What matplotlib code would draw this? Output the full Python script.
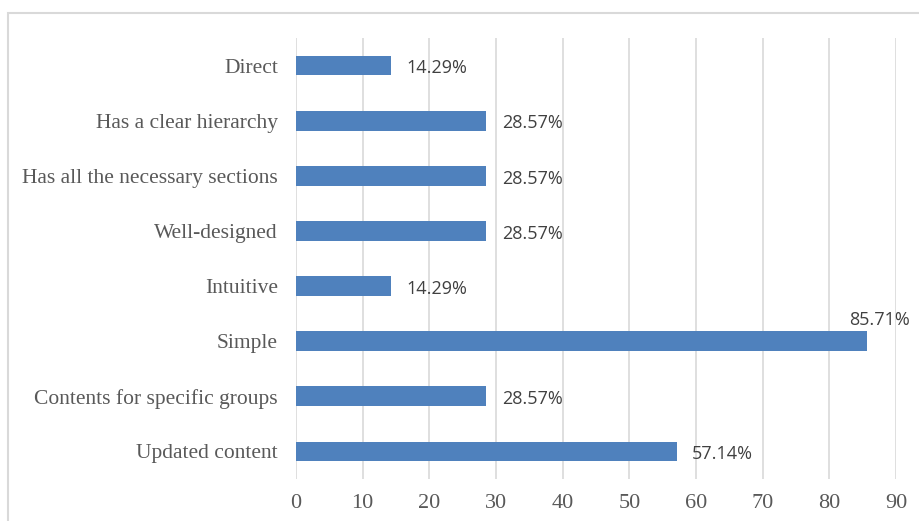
import matplotlib
matplotlib.use("Agg")
import matplotlib.pyplot as plt
from matplotlib.patches import Rectangle

categories = ["Direct", "Has a clear hierarchy", "Has all the necessary sections",
              "Well-designed", "Intuitive", "Simple",
              "Contents for specific groups", "Updated content"]
values = [14.29, 28.57, 28.57, 28.57, 14.29, 85.71, 28.57, 57.14]
xticks = [0, 10, 20, 30, 40, 50, 60, 70, 80, 90]

W, H = 919, 521
fig = plt.figure(figsize=(W / 100, H / 100), dpi=100)
fig.patch.set_facecolor("white")

# outer chart border (only left/top visible in reference)
fig.add_artist(Rectangle((8 / W, -0.1), 1.2, 1 - 13 / H + 0.1, transform=fig.transFigure,
                         fill=False, edgecolor="#d9d9d9", linewidth=1.5))

ax = fig.add_axes([296 / W, 1 - 479 / H, (896 - 296) / W, (479 - 38) / H])
ypos = list(range(len(categories)))
ax.barh(ypos, values, height=0.36, color="#4f81bd", zorder=3)
ax.set_ylim(len(categories) - 0.5, -0.5)
ax.set_xlim(0, 90)
ax.set_xticks(xticks)
ax.set_xticklabels([str(t) for t in xticks], family="Liberation Serif", fontsize=16, color="#595959")
ax.set_yticks(ypos)
ax.set_yticklabels(categories, family="Liberation Serif", fontsize=15.5, color="#595959")
ax.tick_params(axis="both", length=0)
ax.tick_params(axis="y", pad=13)
ax.tick_params(axis="x", pad=11)
for s in ax.spines.values():
    s.set_visible(False)
ax.grid(axis="x", color="#d9d9d9", linewidth=1.2, zorder=0)
ax.set_axisbelow(True)

for y, v in zip(ypos, values):
    label = f"{v:.2f}%"
    if v > 80:
        ax.annotate(label, (v, y), xytext=(9, 15), textcoords="offset points",
                    ha="center", va="center", family="Open Sans", fontsize=13, color="#404040")
    else:
        ax.annotate(label, (v, y), xytext=(11, -2), textcoords="offset points",
                    ha="left", va="center", family="Open Sans", fontsize=13, color="#404040")

fig.savefig("out.png", dpi=100)
